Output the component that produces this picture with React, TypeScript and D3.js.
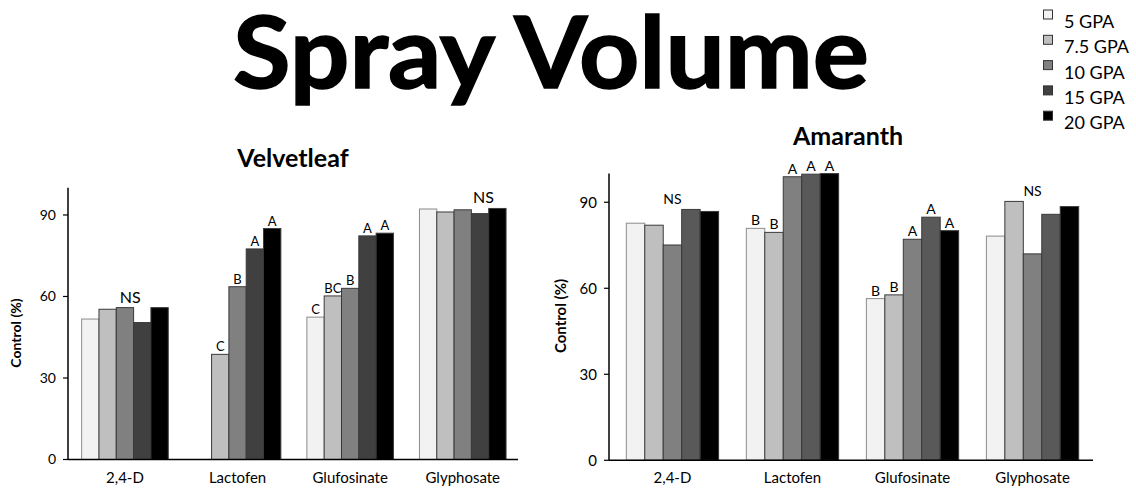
import React from "react";
import * as d3 from "d3";

const categories = ["2,4-D", "Lactofen", "Glufosinate", "Glyphosate"];
const seriesNames = ["5 GPA", "7.5 GPA", "10 GPA", "15 GPA", "20 GPA"];
const yTicks = [0, 30, 60, 90];

// Velvetleaf control (%), rows = categories, columns = series
const velvetleaf2_4D = [51.7, 55.3, 55.9, 50.4, 55.9];
const velvetleafLactofen = [null, 38.7, 63.6, 77.5, 85.0];
const velvetleafGlufosinate = [52.4, 60.2, 63.0, 82.3, 83.3];
const velvetleafGlyphosate = [92.2, 91.1, 91.9, 90.5, 92.4];

const amaranth2_4D = [82.7, 82.0, 75.1, 87.5, 86.8];
const amaranthLactofen = [80.9, 79.5, 98.9, 99.8, 100.0];
const amaranthGlufosinate = [56.4, 57.7, 77.1, 84.8, 80.1];
const amaranthGlyphosate = [78.2, 90.3, 72.0, 85.8, 88.5];

const velvetleafLetters = [
  ["", "", "", "", ""],
  ["", "C", "B", "A", "A"],
  ["C", "BC", "B", "A", "A"],
  ["", "", "", "", ""],
];
const amaranthLetters = [
  ["", "", "", "", ""],
  ["B", "B", "A", "A", "A"],
  ["B", "B", "A", "A", "A"],
  ["", "", "", "", ""],
];
// "NS" markers: [category index, bar index it sits over]
const velvetleafNS = [[0, 2.3], [3, 3.2]];
const amaranthNS = [[0, 2], [3, 2]];

const velvetColors = ["#f2f2f2", "#bfbfbf", "#808080", "#404040", "#000000"];
const amaranthColors = ["#f2f2f2", "#bfbfbf", "#808080", "#595959", "#000000"];
const legendColors = ["#f2f2f2", "#bfbfbf", "#808080", "#404040", "#000000"];

const FONT = "Lato, 'Open Sans', sans-serif";

type PanelProps = {
  title: string;
  titleX: number;
  titleY: number;
  titleFont: number;
  data: (number | null)[][];
  letters: string[][];
  ns: number[][];
  colors: string[];
  x0: number;
  x1: number;
  bandStart: number;
  bandEnd: number;
  yBase: number;
  yTop: number;
  tickFont: number;
  xFont: number;
  letterFont: number;
  nsFont: number;
  yLabelX: number;
  yLabelY: number;
  yLabelFont: number;
};

function Panel(p: PanelProps) {
  const y = d3.scaleLinear().domain([0, 100]).range([p.yBase, p.yTop]);
  const xg = d3
    .scaleBand<string>()
    .domain(categories)
    .range([p.bandStart, p.bandEnd])
    .paddingInner(0.231)
    .paddingOuter(0.115);
  const xs = d3
    .scaleBand<string>()
    .domain(seriesNames)
    .range([0, xg.bandwidth()])
    .padding(0);
  const bw = xs.bandwidth();
  return (
    <g>
      <text
        x={p.titleX}
        y={p.titleY}
        textAnchor="middle"
        fontFamily={FONT}
        fontWeight="bold"
        fontSize={p.titleFont}
      >
        {p.title}
      </text>
      {categories.map((c, ci) =>
        seriesNames.map((s, si) => {
          const v = p.data[ci][si];
          if (v == null) return null;
          const bx = (xg(c) as number) + (xs(s) as number);
          return (
            <rect
              key={c + s}
              x={bx}
              y={y(v)}
              width={bw}
              height={y(0) - y(v)}
              fill={p.colors[si]}
              stroke={si === 0 ? "#8c8c8c" : "#3a3a3a"}
              strokeWidth={1}
            />
          );
        })
      )}
      {categories.map((c, ci) =>
        seriesNames.map((s, si) => {
          const v = p.data[ci][si];
          const l = p.letters[ci][si];
          if (v == null || !l) return null;
          const bx = (xg(c) as number) + (xs(s) as number) + bw / 2;
          return (
            <text
              key={"l" + c + s}
              x={bx}
              y={y(v) - 3}
              textAnchor="middle"
              fontFamily={FONT}
              fontSize={p.letterFont}
            >
              {l}
            </text>
          );
        })
      )}
      {p.ns.map(([ci, bi], k) => {
        const vals = p.data[ci].filter((v) => v != null) as number[];
        const mx = d3.max(vals) as number;
        const c = categories[ci];
        const bx = (xg(c) as number) + bi * bw + bw / 2;
        return (
          <text
            key={"ns" + k}
            x={bx}
            y={y(mx) - 5}
            textAnchor="middle"
            fontFamily={FONT}
            fontSize={p.nsFont}
          >
            NS
          </text>
        );
      })}
      {/* axes */}
      <line x1={p.x0} x2={p.x0} y1={p.yTop} y2={p.yBase} stroke="#000" strokeWidth={1.5} />
      <line x1={p.x0} x2={p.x1} y1={p.yBase} y2={p.yBase} stroke="#000" strokeWidth={1.5} />
      {yTicks.map((t) => (
        <g key={"t" + t}>
          <line x1={p.x0 - 5} x2={p.x0} y1={y(t)} y2={y(t)} stroke="#000" strokeWidth={1.2} />
          <text
            x={p.x0 - 12}
            y={y(t)}
            dy="0.35em"
            textAnchor="end"
            fontFamily={FONT}
            fontSize={p.tickFont}
          >
            {t}
          </text>
        </g>
      ))}
      {categories.map((c) => (
        <text
          key={"x" + c}
          x={(xg(c) as number) + xg.bandwidth() / 2}
          y={483}
          textAnchor="middle"
          fontFamily={FONT}
          fontSize={p.xFont}
        >
          {c}
        </text>
      ))}
      <text
        transform={`translate(${p.yLabelX},${p.yLabelY}) rotate(-90)`}
        textAnchor="middle"
        fontFamily={FONT}
        fontWeight="bold"
        fontSize={p.yLabelFont}
      >
        Control (%)
      </text>
    </g>
  );
}

export default function App() {
  const velvetData = [velvetleaf2_4D, velvetleafLactofen, velvetleafGlufosinate, velvetleafGlyphosate];
  const amaranthData = [amaranth2_4D, amaranthLactofen, amaranthGlufosinate, amaranthGlyphosate];
  return (
    <svg
      width={1136}
      height={494}
      style={{ position: "absolute", left: 0, top: 0, background: "#fff" }}
    >
      <rect width={1136} height={494} fill="#fff" />
      <text
        x={551}
        y={88}
        textAnchor="middle"
        fontFamily={FONT}
        fontWeight="bold"
        fontSize={100}
        textLength={636}
        lengthAdjust="spacingAndGlyphs"
        stroke="#000"
        strokeWidth={1.5}
      >
        Spray Volume
      </text>
      {seriesNames.map((s, i) => (
        <g key={"lg" + s}>
          <rect
            x={1043.5}
            y={10 + i * 25.3}
            width={9}
            height={9}
            fill={legendColors[i]}
            stroke="#333"
            strokeWidth={1}
          />
          <text x={1064} y={28 + i * 25.3} fontFamily={FONT} fontSize={18}>
            {s}
          </text>
        </g>
      ))}
      <Panel
        title="Velvetleaf"
        titleX={293}
        titleY={167}
        titleFont={25}
        data={velvetData}
        letters={velvetleafLetters}
        ns={velvetleafNS}
        colors={velvetColors}
        x0={68}
        x1={518}
        bandStart={68.7}
        bandEnd={519}
        yBase={459.5}
        yTop={187.8}
        tickFont={14}
        xFont={15}
        letterFont={13}
        nsFont={16}
        yLabelX={21}
        yLabelY={333}
        yLabelFont={14}
      />
      <Panel
        title="Amaranth"
        titleX={848}
        titleY={145}
        titleFont={25}
        data={amaranthData}
        letters={amaranthLetters}
        ns={amaranthNS}
        colors={amaranthColors}
        x0={609}
        x1={1093}
        bandStart={612.5}
        bandEnd={1092.5}
        yBase={460.3}
        yTop={173.6}
        tickFont={15}
        xFont={15}
        letterFont={14}
        nsFont={14}
        yLabelX={566}
        yLabelY={316}
        yLabelFont={15}
      />
    </svg>
  );
}
